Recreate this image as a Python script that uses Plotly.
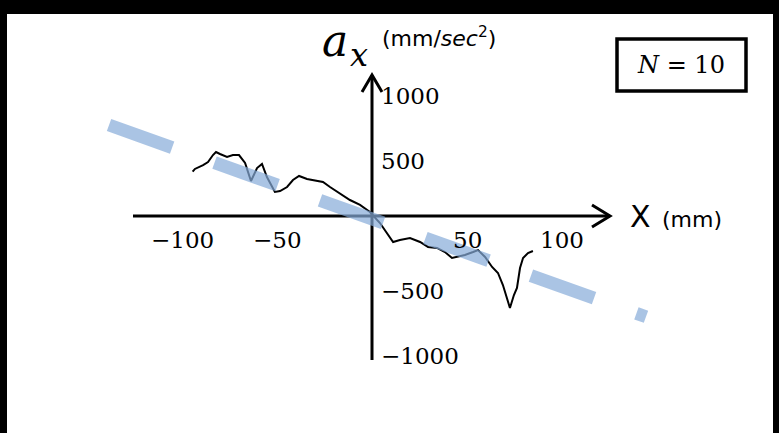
import plotly.graph_objects as go

# ---------------- data ----------------
x_mm = [-94.4, -93.2, -88.9, -86.3, -83.7, -82.1, -80.0, -76.3, -73.2, -70.0,
        -66.8, -63.7, -60.5, -57.9, -55.3, -51.1, -48.4, -44.7, -41.6, -38.4,
        -34.2, -28.9, -25.8, -22.1, -16.8, -11.6, -6.3, -1.1, 4.2, 7.9,
        11.1, 14.7, 20.0, 25.3, 29.5, 34.2, 38.4, 42.1, 44.7, 48.9,
        53.2, 55.8, 59.5, 63.2, 66.3, 68.9, 72.6, 74.7, 76.3, 77.9,
        79.5, 82.1, 84.7]
a_x = [341, 362, 392, 415, 469, 492, 477, 454, 469, 469,
       408, 269, 369, 400, 300, 185, 192, 223, 277, 308,
       285, 269, 262, 223, 169, 123, 85, 31, -54, -131,
       -200, -185, -169, -200, -238, -246, -277, -323, -315, -300,
       -277, -262, -315, -392, -438, -531, -708, -608, -554, -400,
       -323, -285, -269]

fit_x = [-138.4, 144.2]
fit_y = [700, -775]

x_ticks = [-100, -50, 50, 100]
x_tick_text = ["\u2212100", "\u221250", "50", "100"]
y_ticks = [1000, 500, -500, -1000]
y_tick_text = ["1000", "500", "\u2212500", "\u22121000"]

N_value = 10

# ---------------- layout geometry ----------------
W, H = 779, 433
X0_PX, Y0_PX = 372, 216      # pixel of the origin
SX, SY = 1.9, 0.13           # pixels per data unit
x_range = [-X0_PX / SX, (W - X0_PX) / SX]
y_range = [-(H - Y0_PX) / SY, Y0_PX / SY]


def dx(px):
    return px / SX


def dy(px):
    return px / SY


def pp(px, py):
    return px / W, 1 - py / H


fig = go.Figure()

fig.add_trace(go.Scatter(x=x_mm, y=a_x, mode="lines",
                         line=dict(color="black", width=2),
                         hoverinfo="skip", showlegend=False))
fig.add_trace(go.Scatter(x=fit_x, y=fit_y, mode="lines",
                         line=dict(color="rgba(134,171,216,0.7)", width=13,
                                   dash="67px,45px"),
                         hoverinfo="skip", showlegend=False))

shapes = []
# white canvas inside black frame
x0p, y1p = pp(7, 14)
x1p, y0p = pp(773, H)
shapes.append(dict(type="rect", xref="paper", yref="paper", x0=x0p, x1=x1p,
                   y0=y0p, y1=y1p, fillcolor="white", line=dict(width=0),
                   layer="below"))
# axes
xa_left, xa_right = dx(133 - X0_PX), dx(610 - X0_PX)
ya_bottom, ya_top = -dy(360 - Y0_PX), dy(Y0_PX - 75)
shapes.append(dict(type="line", x0=xa_left, x1=xa_right, y0=0, y1=0,
                   line=dict(color="black", width=3), layer="below"))
shapes.append(dict(type="line", x0=0, x1=0, y0=ya_bottom, y1=ya_top,
                   line=dict(color="black", width=3), layer="below"))
# arrowheads
ax_, ay_ = dx(18), dy(11)
shapes.append(dict(type="path",
                   path=f"M {xa_right-ax_},{ay_} L {xa_right},0 L {xa_right-ax_},{-ay_}",
                   line=dict(color="black", width=3), layer="below"))
bx_, by_ = dx(10), dy(17)
shapes.append(dict(type="path",
                   path=f"M {-bx_},{ya_top-by_} L 0,{ya_top} L {bx_},{ya_top-by_}",
                   line=dict(color="black", width=3), layer="below"))
# N box
bx0, by1 = pp(617, 39)
bx1, by0 = pp(746, 91)
shapes.append(dict(type="rect", xref="paper", yref="paper", x0=bx0, x1=bx1,
                   y0=by0, y1=by1, line=dict(color="black", width=3.5),
                   fillcolor="white", layer="below"))

annotations = []
tick_font = dict(family="DejaVu Serif", size=23, color="black")
for v, t in zip(x_ticks, x_tick_text):
    annotations.append(dict(x=v, y=0, text=t, showarrow=False, font=tick_font,
                            xanchor="center", yanchor="middle", yshift=-24))
for v, t in zip(y_ticks, y_tick_text):
    annotations.append(dict(x=0, y=v, text=t, showarrow=False, font=tick_font,
                            xanchor="left", yanchor="middle", xshift=7, yshift=-10))

# axis titles
px_, py_ = pp(335, 40)
annotations.append(dict(x=px_, y=py_, xref="paper", yref="paper", text="<i>a</i>",
                        showarrow=False, xanchor="center", yanchor="middle",
                        font=dict(family="DejaVu Serif", size=44, color="black")))
px_, py_ = pp(359, 55)
annotations.append(dict(x=px_, y=py_, xref="paper", yref="paper", text="<i>x</i>",
                        showarrow=False, xanchor="center", yanchor="middle",
                        font=dict(family="DejaVu Serif", size=32, color="black")))
px_, py_ = pp(380, 37)
annotations.append(dict(x=px_, y=py_, xref="paper", yref="paper",
                        text="(mm/<i>sec</i><sup>2</sup>)",
                        showarrow=False, xanchor="left", yanchor="middle",
                        font=dict(family="DejaVu Sans", size=22, color="black")))
px_, py_ = pp(628, 216)
annotations.append(dict(x=px_, y=py_, xref="paper", yref="paper", text="X",
                        showarrow=False, xanchor="left", yanchor="middle",
                        font=dict(family="DejaVu Sans", size=30, color="black")))
px_, py_ = pp(660, 219)
annotations.append(dict(x=px_, y=py_, xref="paper", yref="paper", text="(mm)",
                        showarrow=False, xanchor="left", yanchor="middle",
                        font=dict(family="DejaVu Sans", size=22, color="black")))
px_, py_ = pp(681, 65)
annotations.append(dict(x=px_, y=py_, xref="paper", yref="paper",
                        text=f"<i>N</i> = {N_value}",
                        showarrow=False, xanchor="center", yanchor="middle",
                        font=dict(family="DejaVu Serif", size=24, color="black")))

fig.update_layout(
    width=W, height=H, autosize=False,
    margin=dict(l=0, r=0, t=0, b=0, pad=0),
    paper_bgcolor="black", plot_bgcolor="rgba(0,0,0,0)",
    xaxis=dict(range=x_range, visible=False, fixedrange=True),
    yaxis=dict(range=y_range, visible=False, fixedrange=True),
    shapes=shapes, annotations=annotations, showlegend=False,
)

fig.write_html("out.html", config=dict(displayModeBar=False),
               post_script="document.body.style.margin='0';"
                           "document.body.style.overflow='hidden';")
